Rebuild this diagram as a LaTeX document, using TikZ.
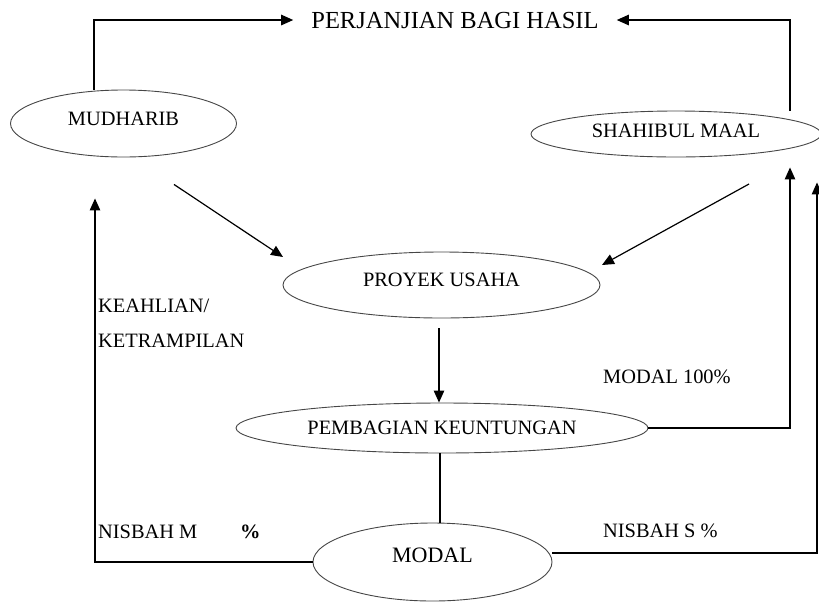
\documentclass[tikz,border=0pt]{standalone}
\usepackage{fontspec}
\setmainfont{Liberation Serif}
\usetikzlibrary{shapes.geometric,arrows.meta}
\definecolor{rimgray}{RGB}{70,70,70}

\begin{document}
\begin{tikzpicture}[x=1pt,y=-1pt,inner sep=0pt,font=\fontsize{20.4pt}{24pt}\selectfont]
\tikzstyle{main}=[ellipse, draw=rimgray, line width=0.9pt]
\tikzstyle{connect}=[-{Triangle[length=12pt,width=10.5pt]}, line width=1.2pt]
\tikzstyle{plain}=[line width=1.2pt]
\tikzstyle{note}=[anchor=base west]
\useasboundingbox (0,0) rectangle (819,606);
% judul dan pihak-pihak
\node[anchor=base,inner xsep=18pt,font=\fontsize{24.5pt}{29pt}\selectfont] (judul) at (455,28) {PERJANJIAN BAGI HASIL};
\node[main,minimum width=226pt,minimum height=67pt,text depth=10pt] (mudharib) at (123.5,123.5) {MUDHARIB};
\node[main,minimum width=290pt,minimum height=46pt,text depth=6pt] (shahibul) at (676,134) {SHAHIBUL MAAL};
\node[main,minimum width=317pt,minimum height=66pt,text depth=11pt] (proyek) at (441.5,285) {PROYEK USAHA};
\node[main,minimum width=412pt,minimum height=50pt] (pembagian) at (442,428) {PEMBAGIAN KEUNTUNGAN};
\node[main,minimum width=239pt,minimum height=78pt,text depth=13pt,font=\fontsize{22pt}{26pt}\selectfont] (modal) at (432.5,562) {MODAL};
% keterangan
\node[note] (keahlian) at (98,312) {KEAHLIAN/};
\node[note] (ketrampilan) at (98,347) {KETRAMPILAN};
\node[note] (modalpenuh) at (603,383) {MODAL 100\%};
\node[note] (nisbahm) at (98,538) {NISBAH M};
\node[note] (persenm) at (240,538) {\textbf{\%}};
\node[note] (nisbahs) at (603,537) {NISBAH S \%};
% panah
\draw[connect] ([xshift=-29.5pt]mudharib.north) |- (judul.west);
\draw[connect] ([xshift=114pt]shahibul.north) |- (judul.east);
\draw[connect] ([xshift=50.5pt,yshift=-27pt]mudharib.south) -- ([xshift=-158.5pt,yshift=28pt]proyek.center);
\draw[connect] ([xshift=73pt,yshift=-50pt]shahibul.center) -- ([xshift=160.5pt,yshift=20pt]proyek.center);
\draw[connect] ([xshift=-2.5pt,yshift=-10pt]proyek.south) -- ([xshift=-3pt]pembagian.north);
\draw[connect] (pembagian.east) -| ([xshift=114pt,yshift=-10pt]shahibul.south);
\draw[plain] ([xshift=-2pt]pembagian.south) -- ([xshift=-2pt]pembagian.south |- modal.north);
\draw[connect] (modal.west) -| ([xshift=-28.5pt,yshift=-41pt]mudharib.south);
\draw[connect] ([yshift=9pt]modal.east) -| ([xshift=141pt,yshift=-25pt]shahibul.south);
\end{tikzpicture}
\end{document}
